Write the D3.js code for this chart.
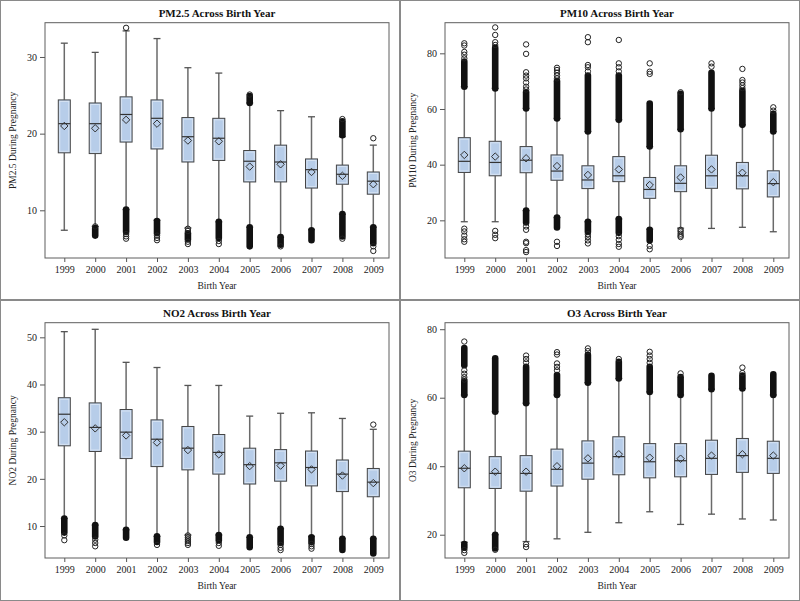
<!DOCTYPE html>
<html><head><meta charset="utf-8">
<script src="https://cdn.jsdelivr.net/npm/d3@7"></script>
<style>body{margin:0;background:#fff} svg{display:block}</style>
</head><body><svg id="c" width="800" height="601"></svg>
<script>
const years = ["1999","2000","2001","2002","2003","2004","2005","2006","2007","2008","2009"];

// ---- PM2.5 ----
const pm25Ticks = [10, 20, 30];
const pm25Q1   = [17.5, 17.4, 18.9, 18.0, 16.3, 16.5, 13.7, 13.7, 12.9, 13.4, 12.1];
const pm25Med  = [21.3, 21.3, 22.5, 22.0, 19.6, 19.4, 16.4, 16.3, 15.3, 14.7, 13.8];
const pm25Q3   = [24.4, 24.0, 24.8, 24.4, 22.1, 22.0, 17.8, 18.5, 16.7, 15.9, 15.0];
const pm25Mean = [21.0, 20.7, 21.8, 21.3, 19.1, 19.0, 15.7, 16.0, 15.0, 14.5, 13.4];
const pm25Lo   = [7.4, 7.9, 10.1, 8.7, 7.7, 8.5, 7.8, 6.5, 7.5, 9.5, 7.8];
const pm25Hi   = [31.8, 30.6, 33.4, 32.4, 28.6, 27.9, 24.0, 23.0, 22.2, 19.6, 18.5];
const pm25Dense = [[], [[6.7,7.7]], [[7.2,10.1]], [[7.0,8.6]], [[6.2,7.0]], [[6.4,8.5]], [[5.3,7.8],[24.0,24.9]], [[5.5,6.5]], [[6.1,7.4]], [[6.6,9.5],[19.8,21.6]], [[5.7,7.8]]];
const pm25Pts   = [[], [7.9], [6.9,6.6,6.3,33.8], [6.7,6.4,6.1], [7.6,7.3,5.9,5.6], [6.0,5.6], [25.1], [5.3], [], [6.3,21.9], [5.3,4.7,19.4]];

// ---- PM10 ----
const pm10Ticks = [20, 40, 60, 80];
const pm10Q1   = [37.2, 36.0, 37.1, 34.4, 31.4, 33.9, 27.9, 30.3, 31.5, 31.3, 28.4];
const pm10Med  = [41.2, 40.8, 41.6, 37.7, 34.5, 36.0, 31.1, 33.3, 36.0, 36.0, 33.2];
const pm10Q3   = [49.7, 48.4, 46.5, 43.5, 39.6, 42.9, 35.4, 39.6, 43.4, 40.8, 37.8];
const pm10Mean = [43.5, 42.9, 42.3, 39.5, 36.3, 38.3, 32.7, 35.4, 38.3, 37.1, 33.7];
const pm10Lo   = [19.5, 19.5, 23.5, 21.0, 19.5, 20.5, 16.8, 17.2, 17.1, 17.5, 15.9];
const pm10Hi   = [68.0, 67.4, 60.2, 56.6, 51.9, 56.1, 46.5, 52.7, 60.2, 54.3, 51.9];
const pm10Dense = [[[68.0,77.0]], [[67.4,82.0]], [[60.2,66.0],[19.2,23.5]], [[56.6,70.0],[17.4,21.0]], [[51.9,72.0],[15.8,19.5]], [[56.1,72.0],[15.5,20.5]], [[46.5,62.0],[12.8,16.6]], [[52.7,65.5]], [[60.2,73.0]], [[54.3,66.5]], [[51.9,58.3]]];
const pm10Pts   = [[83.6,82.8,80.5,79.5,78.2,17.0,16.0,14.5,13.2,12.3], [89.3,86.6,84.0,83.0,16.2,14.8,13.6], [83.2,79.8,73.2,72.0,71.0,69.5,68.0,67.0,17.8,16.6,12.3,11.8,9.3,8.6], [74.8,74.0,73.0,72.0,71.0,12.3,10.8], [85.8,84.0,75.8,75.0,73.5,15.0,14.0,12.8,11.7], [84.8,76.4,75.0,73.5,14.3,13.0,11.5,10.5], [76.4,73.4,72.6,10.8,9.6], [66.0,16.6,16.0,15.2,14.5,14.0], [76.4,75.2], [74.4,70.4,69.5,68.5,67.5], [60.6,59.4]];

// ---- NO2 ----
const no2Ticks = [10, 20, 30, 40, 50];
const no2Q1   = [27.0, 25.8, 24.3, 22.6, 21.9, 21.0, 18.9, 19.5, 18.5, 17.3, 16.2];
const no2Med  = [33.7, 30.9, 29.9, 28.4, 26.5, 25.6, 23.0, 23.4, 22.4, 21.0, 19.3];
const no2Q3   = [37.2, 36.1, 34.7, 32.5, 31.1, 29.4, 26.5, 26.2, 25.9, 24.0, 22.2];
const no2Mean = [32.0, 30.7, 29.2, 27.7, 26.1, 25.2, 22.7, 22.8, 22.0, 20.7, 19.1];
const no2Lo   = [11.6, 10.2, 9.2, 7.8, 8.1, 8.1, 7.6, 9.4, 7.8, 7.3, 7.3];
const no2Hi   = [51.2, 51.7, 44.7, 43.6, 39.8, 39.8, 33.3, 33.9, 34.0, 32.8, 30.5];
const no2Dense = [[[8.6,11.6]], [[7.8,10.2]], [[7.5,9.2]], [[6.6,7.8]], [], [[7.0,8.1]], [[5.5,7.6]], [[6.4,9.4]], [[6.6,7.6]], [[4.9,7.3]], [[4.2,7.3]]];
const no2Pts   = [[8.0,7.0], [7.1,6.4,5.7], [], [6.0], [8.0,7.6,7.2,6.8,6.4,6.0], [6.4,5.8], [], [6.0,5.4,4.9], [6.2,5.7,5.2], [], [31.5]];

// ---- O3 ----
const o3Ticks = [20, 40, 60, 80];
const o3Q1   = [33.7, 33.5, 32.7, 34.2, 36.2, 37.5, 36.6, 36.9, 37.6, 38.2, 37.9];
const o3Med  = [39.4, 37.9, 37.9, 39.1, 40.9, 42.8, 41.3, 41.6, 42.3, 43.1, 42.3];
const o3Q3   = [44.4, 42.8, 43.1, 45.0, 47.4, 48.6, 46.6, 46.6, 47.6, 48.1, 47.3];
const o3Mean = [39.4, 38.4, 38.4, 40.0, 42.3, 43.5, 42.5, 42.2, 43.1, 43.5, 43.1];
const o3Lo   = [17.8, 20.0, 18.0, 18.8, 20.7, 23.5, 26.7, 23.0, 26.0, 24.6, 24.3];
const o3Hi   = [60.8, 55.9, 58.4, 60.8, 64.4, 65.6, 61.7, 60.8, 62.5, 62.7, 60.8];
const o3Dense = [[[60.8,64.8],[69.5,74.5],[16.2,17.3]], [[55.9,71.5],[16.0,20.0]], [[58.4,69.0]], [[60.8,66.6]], [[64.4,72.5]], [[65.6,70.5]], [[61.7,69.0]], [[60.8,66.0]], [[62.5,66.4]], [[62.7,66.5]], [[60.8,66.8]]];
const o3Pts   = [[76.4,68.0,67.0,66.0,65.3,15.5,14.7], [15.6], [72.3,71.3,70.3,17.2,16.4], [73.3,72.6,70.0,69.0,68.0], [74.4,73.6], [71.3], [73.4,72.3,71.3,70.2], [67.1], [], [68.8,67.2], []];

const panels = [
  {title:"PM2.5 Across Birth Year", ylab:"PM2.5 During Pregnancy", ox:0, oy:0, domain:[3.78,34.47], ticks:pm25Ticks,
   q1:pm25Q1, med:pm25Med, q3:pm25Q3, mean:pm25Mean, lo:pm25Lo, hi:pm25Hi, dense:pm25Dense, pts:pm25Pts},
  {title:"PM10 Across Birth Year", ylab:"PM10 During Pregnancy", ox:400, oy:0, domain:[6.47,91.0], ticks:pm10Ticks,
   q1:pm10Q1, med:pm10Med, q3:pm10Q3, mean:pm10Mean, lo:pm10Lo, hi:pm10Hi, dense:pm10Dense, pts:pm10Pts},
  {title:"NO2 Across Birth Year", ylab:"NO2 During Pregnancy", ox:0, oy:300, domain:[3.22,53.1], ticks:no2Ticks,
   q1:no2Q1, med:no2Med, q3:no2Q3, mean:no2Mean, lo:no2Lo, hi:no2Hi, dense:no2Dense, pts:no2Pts},
  {title:"O3 Across Birth Year", ylab:"O3 During Pregnancy", ox:400, oy:300, domain:[13.2,81.9], ticks:o3Ticks,
   q1:o3Q1, med:o3Med, q3:o3Q3, mean:o3Mean, lo:o3Lo, hi:o3Hi, dense:o3Dense, pts:o3Pts}
];

const svg = d3.select("#c");
svg.append("rect").attr("width",800).attr("height",601).attr("fill","#fff");
const FONT = "'Liberation Serif','Times New Roman',serif";
const L = 45, R = 389, T = 22.7, B = 258;

panels.forEach(p => {
  const g = svg.append("g").attr("transform", `translate(${p.ox},${p.oy})`);
  g.append("rect").attr("x",0.5).attr("y",0.5).attr("width",399).attr("height", p.oy ? 300 : 299)
    .attr("fill","none").attr("stroke","#8a8a8a").attr("stroke-width",1);

  const x = d3.scalePoint().domain(years).range([64.3, 373.3]);
  const y = d3.scaleLinear().domain(p.domain).range([B, T]);

  // axes
  const ya = g.append("g").attr("transform", `translate(${L},0)`)
    .call(d3.axisLeft(y).tickValues(p.ticks).tickSize(5).tickPadding(3).tickFormat(d3.format("d")));
  const xa = g.append("g").attr("transform", `translate(0,${B})`)
    .call(d3.axisBottom(x).tickSize(4).tickPadding(4));
  [ya, xa].forEach(a => {
    a.select(".domain").remove();
    a.selectAll("line").attr("stroke","#555");
    a.selectAll("text").attr("font-family",FONT).attr("font-size","10px").attr("fill","#222");
  });

  // frame
  g.append("rect").attr("x",L).attr("y",T).attr("width",R-L).attr("height",B-T)
    .attr("fill","none").attr("stroke","#5e5e5e").attr("stroke-width",1);

  // titles
  g.append("text").attr("x",(L+R)/2).attr("y",16.5).attr("text-anchor","middle")
    .attr("font-family",FONT).attr("font-weight","bold").attr("font-size","11px").attr("fill","#111").text(p.title);
  g.append("text").attr("x",(L+R)/2).attr("y",289).attr("text-anchor","middle")
    .attr("font-family",FONT).attr("font-size","9.5px").attr("fill","#222").text("Birth Year");
  g.append("text").attr("transform",`translate(16,${(T+B)/2}) rotate(-90)`).attr("text-anchor","middle")
    .attr("font-family",FONT).attr("font-size","9.5px").attr("fill","#222").text(p.ylab);

  const bw = 12, cw = 7, r = 2.7;
  years.forEach((yr, i) => {
    const cx = x(yr);
    const gg = g.append("g");
    // whiskers
    gg.append("line").attr("x1",cx).attr("x2",cx).attr("y1",y(p.lo[i])).attr("y2",y(p.q1[i]))
      .attr("stroke","#6a6a6a").attr("stroke-width",1.5);
    gg.append("line").attr("x1",cx).attr("x2",cx).attr("y1",y(p.q3[i])).attr("y2",y(p.hi[i]))
      .attr("stroke","#6a6a6a").attr("stroke-width",1.5);
    [p.lo[i], p.hi[i]].forEach(v => {
      gg.append("line").attr("x1",cx-cw/2).attr("x2",cx+cw/2).attr("y1",y(v)).attr("y2",y(v))
        .attr("stroke","#555").attr("stroke-width",1.3);
    });
    // dense outlier clusters
    p.dense[i].forEach(([a,b]) => {
      gg.append("rect").attr("x",cx-r-0.6).attr("width",2*r+1.2)
        .attr("y",y(b)-r-0.6).attr("height",y(a)-y(b)+2*r+1.2).attr("rx",r+0.6)
        .attr("fill","#111");
    });
    // individual outliers
    p.pts[i].forEach(v => {
      gg.append("circle").attr("cx",cx).attr("cy",y(v)).attr("r",r)
        .attr("fill","none").attr("stroke","#222").attr("stroke-width",1);
    });
    // box
    gg.append("rect").attr("x",cx-bw/2).attr("width",bw).attr("y",y(p.q3[i])).attr("height",y(p.q1[i])-y(p.q3[i]))
      .attr("fill","#b7cde9").attr("stroke","#454545").attr("stroke-width",1);
    gg.append("rect").attr("x",cx-bw/2+1.5).attr("width",bw-3).attr("y",y(p.q3[i])+1.5).attr("height",Math.max(0,y(p.q1[i])-y(p.q3[i])-3))
      .attr("fill","none").attr("stroke","rgba(255,255,255,0.45)").attr("stroke-width",1);
    // median
    gg.append("line").attr("x1",cx-bw/2).attr("x2",cx+bw/2).attr("y1",y(p.med[i])).attr("y2",y(p.med[i]))
      .attr("stroke","#333").attr("stroke-width",1.2);
    // mean diamond
    const my = y(p.mean[i]), d = 3.7;
    gg.append("path").attr("d",`M${cx},${my-d}L${cx+d},${my}L${cx},${my+d}L${cx-d},${my}Z`)
      .attr("fill","none").attr("stroke","#333").attr("stroke-width",1);
  });
});
</script>
</body></html>
